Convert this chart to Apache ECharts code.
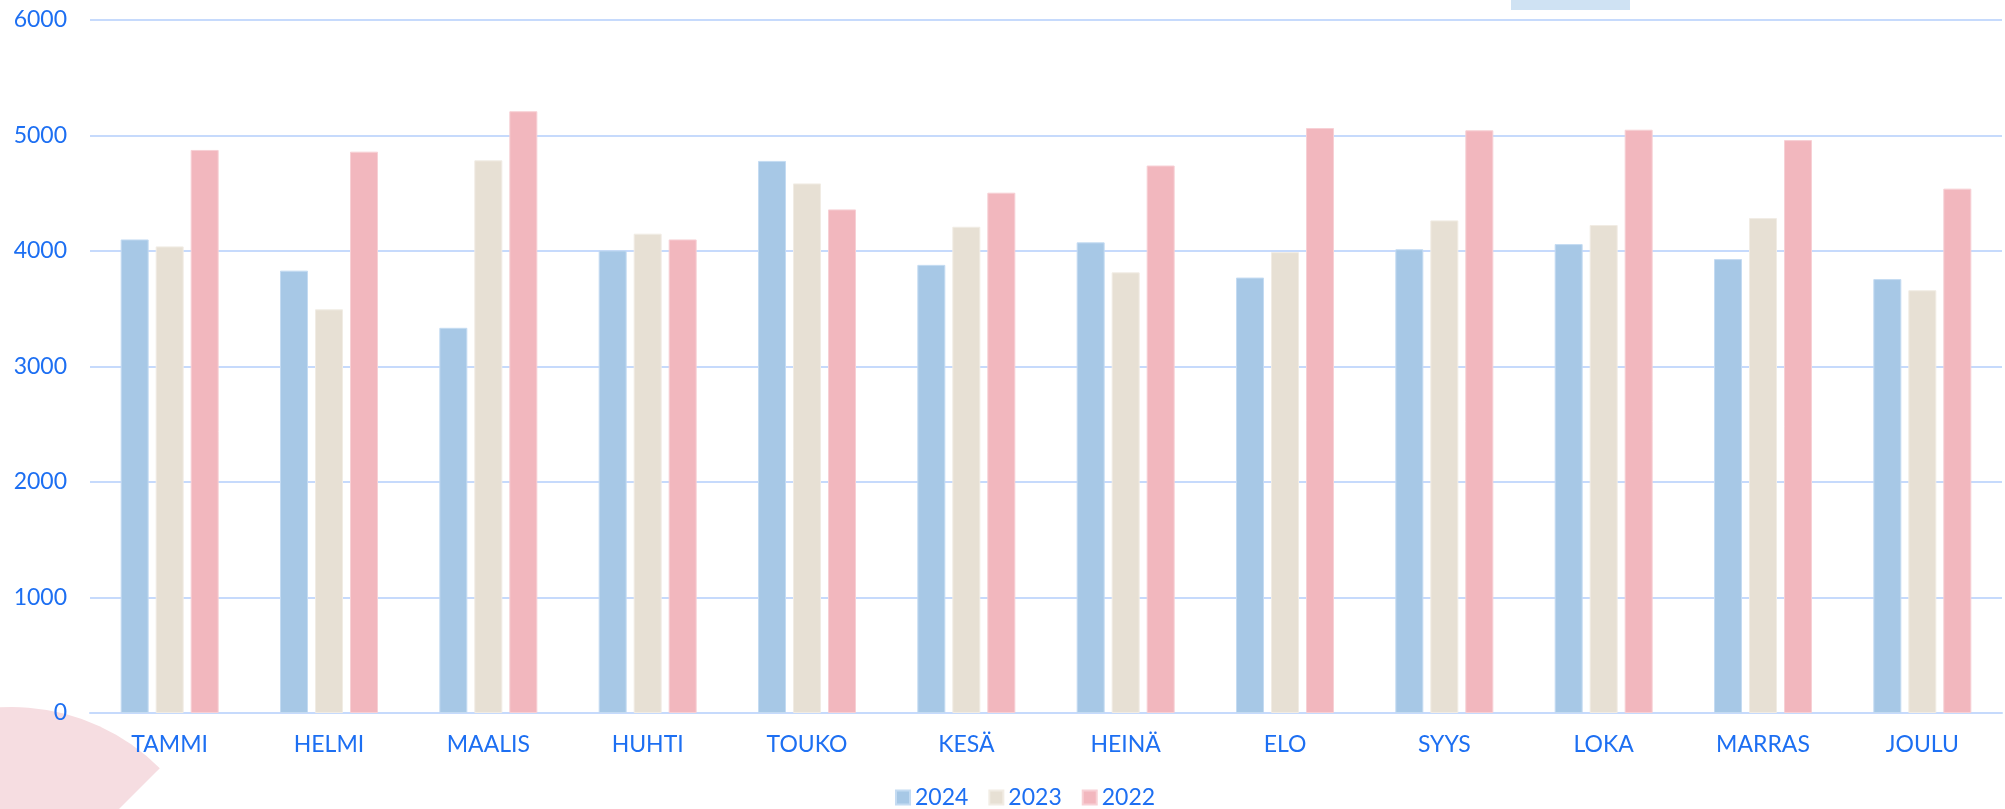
<!DOCTYPE html>
<html>
<head>
<meta charset="utf-8">
<script src="https://cdn.jsdelivr.net/npm/echarts@6/dist/echarts.min.js"></script>
<style>
html,body{margin:0;padding:0;background:#fff;}
#chart{width:2005px;height:809px;}
</style>
</head>
<body>
<div id="chart"></div>
<script>
const categories = ['TAMMI','HELMI','MAALIS','HUHTI','TOUKO','KESÄ','HEINÄ','ELO','SYYS','LOKA','MARRAS','JOULU'];
const seriesNames = ['2024','2023','2022'];
const values2024 = [4100,3830,3335,4005,4780,3880,4075,3770,4015,4060,3930,3757];
const values2023 = [4040,3495,4785,4150,4585,4210,3815,3990,4265,4225,4285,3660];
const values2022 = [4875,4860,5210,4100,4360,4505,4740,5065,5045,5050,4960,4540];
const yTicks = [0,1000,2000,3000,4000,5000,6000];

const textColor = '#1d6ff2';
const font = 'Lato, "Open Sans", sans-serif';
const colors = ['#a7c8e6','#e7e0d4','#f2b7be'];
const borders = ['#c4dbf2','#f1ece4','#f7d0d5'];

const chart = echarts.init(document.getElementById('chart'));
const data = [values2024, values2023, values2022];
chart.setOption({
  animation: false,
  backgroundColor: '#ffffff',
  textStyle: { fontFamily: font },
  graphic: [
    { type: 'sector', z: -10, shape: { cx: 12, cy: 916, r0: 0, r: 209, startAngle: -Math.PI * 1.2, endAngle: -Math.PI / 4, clockwise: true }, style: { fill: '#f6dde1' } },
    { type: 'rect', z: -10, shape: { x: 1511, y: 0, width: 119, height: 10 }, style: { fill: '#cfe2f3' } }
  ],
  legend: {
    data: seriesNames,
    left: 890,
    top: 781,
    itemWidth: 14,
    itemHeight: 14,
    itemGap: 20,
    icon: 'rect',
    textStyle: { color: textColor, fontSize: 23, fontFamily: font }
  },
  grid: { left: 90, right: 3, top: 20, bottom: 96, containLabel: false },
  xAxis: {
    type: 'category',
    data: categories,
    axisLine: { show: true, lineStyle: { color: '#c6dafc', width: 2 } },
    axisTick: { show: false },
    axisLabel: { color: textColor, fontSize: 23, fontFamily: font, margin: 20 }
  },
  yAxis: {
    type: 'value',
    min: yTicks[0],
    max: yTicks[yTicks.length - 1],
    interval: 1000,
    axisLine: { show: false },
    axisTick: { show: false },
    splitLine: { lineStyle: { color: '#c6dafc', width: 2 } },
    axisLabel: { color: textColor, fontSize: 23, fontFamily: font, margin: 23, formatter: v => String(v) }
  },
  series: seriesNames.map((name, i) => ({
    name: name,
    type: 'bar',
    data: data[i],
    barWidth: 28,
    barGap: '25%',
    itemStyle: { color: colors[i], borderColor: borders[i], borderWidth: 1 }
  }))
});
</script>
</body>
</html>
